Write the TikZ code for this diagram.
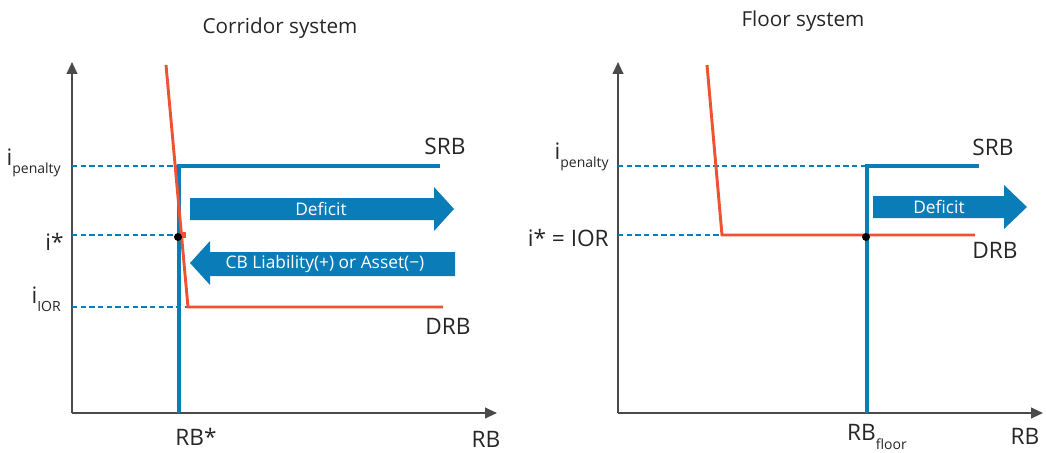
\documentclass[tikz,border=0pt]{standalone}
\usepackage{fontspec}
\setmainfont{Open Sans}
\usetikzlibrary{arrows.meta}
\definecolor{cbblue}{HTML}{0A7DB8}
\definecolor{cbred}{HTML}{EE5230}
\definecolor{axisgray}{HTML}{4A4A4A}
\newcommand\lowsub[1]{\raisebox{-0.7ex}{\fontsize{10.5}{11}\selectfont #1}}
\tikzset{
  axis/.style={draw=axisgray, line width=1.5pt, -{Triangle[length=9pt,width=8pt]}},
  srb/.style={draw=cbblue, line width=2.3pt},
  drb/.style={draw=cbred, line width=2.2pt},
  guide/.style={draw=cbblue, line width=0.8pt, dash pattern=on 4pt off 2.5pt},
  lbl/.style={font=\fontsize{17}{20}\selectfont, text=black!85, inner sep=0pt},
  title/.style={font=\fontsize{15.5}{18}\selectfont, text=black!85, inner sep=0pt},
  fat/.style={fill=cbblue, draw=none},
  fattext/.style={font=\fontsize{13}{15}\selectfont, text=white, inner sep=0pt},
  eqdot/.style={circle, fill=black, inner sep=0pt, minimum size=6pt}
}
\begin{document}
\begin{tikzpicture}[x=0.75pt, y=-0.75pt]
\useasboundingbox (0,0) rectangle (1046,453);

% ---------------- Corridor system ----------------
\node[title] (t1) at (280,28) {Corridor system};
\coordinate (o1) at (72,413);
\coordinate (y1) at (72,62);
\coordinate (x1) at (497,413);
\draw[axis] (o1) -- (y1);
\draw[axis] (o1) -- (x1);

% rate levels
\coordinate (p1) at (72,166);
\coordinate (s1) at (72,235);
\coordinate (f1) at (72,307);
\coordinate (sc1) at (179,166);
\coordinate (ss1) at (179,235);
\coordinate (fc1) at (188,307);
\draw[guide] (p1) -- (sc1);
\draw[guide] (s1) -- (ss1);
\draw[guide] (f1) -- (fc1);

% reserve supply
\coordinate (sb1) at (179,413);
\coordinate (se1) at (440,166);
\draw[srb] (sb1) -- (sc1) -- (se1);

% reserve demand
\coordinate (dt1) at (166,65);
\coordinate (de1) at (443,307);
\draw[drb] (dt1) -- (fc1) -- (de1);
\fill[cbred] (181,232) rectangle (186,238);
\node[eqdot] (eq1) at (178,237) {};

% deficit and balance arrows
\fill[fat] (190,198) -- (434,198) -- (434,187) -- (454,209) -- (434,231) -- (434,220) -- (190,220) -- cycle;
\node[fattext] (d1) at (321,209) {Deficit};
\fill[fat] (455,252) -- (210,252) -- (210,241) -- (190,263) -- (210,285) -- (210,276) -- (455,276) -- cycle;
\node[fattext] (cb1) at (325,264) {CB Liability(+) or Asset(−)};

\node[lbl, anchor=east] (lp1) at (61,163) {i\lowsub{penalty}};
\node[lbl, anchor=east] (ls1) at (64,242) {i*};
\node[lbl, anchor=east] (lf1) at (61,299) {i\lowsub{IOR}};
\node[lbl] (ns1) at (445,146) {SRB};
\node[lbl] (nd1) at (448,326) {DRB};
\node[lbl] (rs1) at (196,437) {RB*};
\node[lbl] (rb1) at (486,439) {RB};

% ---------------- Floor system ----------------
\node[title] (t2) at (803,21) {Floor system};
\coordinate (o2) at (618,413);
\coordinate (y2) at (618,62);
\coordinate (x2) at (1043,413);
\draw[axis] (o2) -- (y2);
\draw[axis] (o2) -- (x2);

\coordinate (p2) at (618,166);
\coordinate (s2) at (618,235);
\coordinate (sc2) at (867,166);
\coordinate (fc2) at (722,235);
\draw[guide] (p2) -- (sc2);
\draw[guide] (s2) -- (fc2);

\coordinate (sb2) at (867,413);
\coordinate (se2) at (979,166);
\draw[srb] (sb2) -- (sc2) -- (se2);

\coordinate (dt2) at (707,65);
\coordinate (de2) at (975,235);
\draw[drb] (dt2) -- (fc2) -- (de2);
\node[eqdot] (eq2) at (866,237) {};

\fill[fat] (873,196) -- (1004,196) -- (1004,185) -- (1027,207) -- (1004,229) -- (1004,218) -- (873,218) -- cycle;
\node[fattext] (d2) at (939,207) {Deficit};

\node[lbl, anchor=east] (lp2) at (609,157) {i\lowsub{penalty}};
\node[lbl, anchor=east] (ls2) at (609,238) {i* = IOR};
\node[lbl] (ns2) at (993,147) {SRB};
\node[lbl] (nd2) at (995,250) {DRB};
\node[lbl] (rf2) at (877,437) {RB\lowsub{floor}};
\node[lbl] (rb2) at (1025,436) {RB};
\end{tikzpicture}
\end{document}
